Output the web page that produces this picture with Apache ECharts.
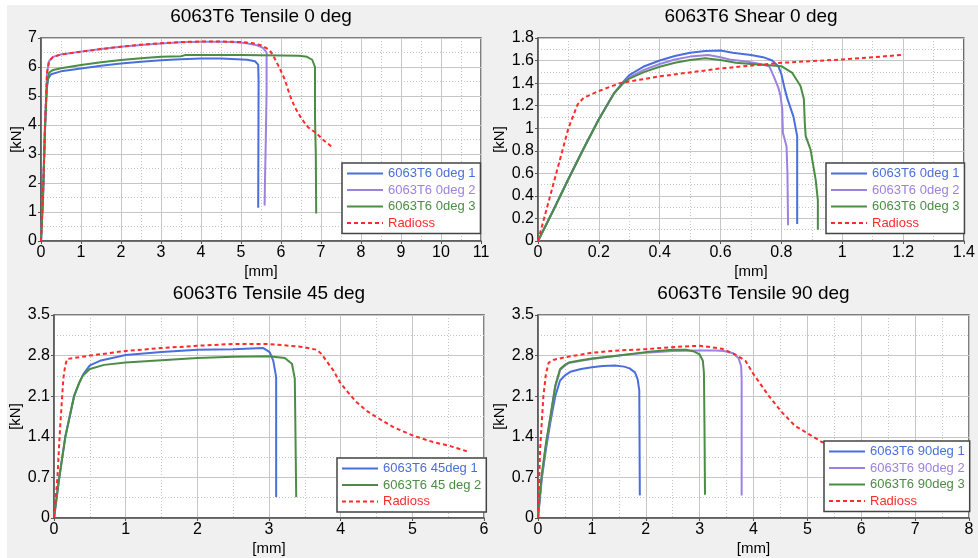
<!DOCTYPE html>
<html>
<head>
<meta charset="utf-8">
<script src="https://cdn.jsdelivr.net/npm/echarts@6/dist/echarts.min.js"></script>
<style>
  html, body { margin: 0; padding: 0; background: #ffffff; }
  #chart { width: 978px; height: 558px; }
</style>
</head>
<body>
<div id="chart"></div>
<script>
// ---- Tensile 0 deg : force [kN] vs displacement [mm] ----
const tensile0Deg1 = [[0,0],[0.05,1.5],[0.1,3.8],[0.14,5.2],[0.18,5.6],[0.25,5.75],[0.5,5.85],[1,5.95],[1.5,6.04],[2,6.12],[2.5,6.18],[3,6.23],[3.5,6.27],[4,6.29],[4.5,6.29],[4.9,6.27],[5.15,6.25],[5.35,6.2],[5.43,6.08],[5.44,5.5],[5.43,1.15]];
const tensile0Deg2 = [[0,0],[0.05,1.6],[0.1,4.0],[0.15,5.8],[0.2,6.2],[0.3,6.35],[0.5,6.43],[1,6.53],[1.5,6.62],[2,6.7],[2.5,6.76],[3,6.81],[3.5,6.85],[4,6.87],[4.5,6.87],[4.8,6.86],[5.1,6.83],[5.4,6.75],[5.55,6.66],[5.64,6.5],[5.64,5.2],[5.62,3.5],[5.6,2.1],[5.59,1.22]];
const tensile0Deg3 = [[0,0],[0.05,1.5],[0.1,3.9],[0.15,5.4],[0.2,5.8],[0.3,5.9],[0.5,5.96],[1,6.07],[1.5,6.16],[2,6.24],[2.5,6.3],[3,6.35],[3.5,6.37],[3.6,6.41],[4,6.41],[5,6.41],[6,6.4],[6.45,6.39],[6.65,6.35],[6.78,6.25],[6.85,6.0],[6.85,4.25],[6.87,3.0],[6.88,0.95]];
const tensile0Radioss = [[0,0],[0.05,1.6],[0.1,4.0],[0.15,5.8],[0.2,6.2],[0.3,6.35],[0.5,6.43],[1,6.53],[1.5,6.62],[2,6.7],[2.5,6.77],[3,6.82],[3.5,6.86],[4,6.88],[4.5,6.88],[5,6.86],[5.3,6.82],[5.47,6.76],[5.6,6.68],[5.72,6.58],[5.84,6.3],[5.97,5.95],[6.1,5.55],[6.22,5.03],[6.34,4.63],[6.52,4.2],[6.68,3.92],[6.89,3.71],[7.06,3.48],[7.27,3.25]];

// ---- Shear 0 deg ----
const shear0Deg1 = [[0,0],[0.05,0.27],[0.1,0.55],[0.15,0.82],[0.2,1.08],[0.25,1.31],[0.28,1.41],[0.3,1.47],[0.35,1.55],[0.4,1.6],[0.45,1.64],[0.5,1.67],[0.55,1.685],[0.6,1.69],[0.64,1.67],[0.7,1.65],[0.74,1.63],[0.77,1.6],[0.79,1.55],[0.8,1.48],[0.81,1.36],[0.82,1.26],[0.84,1.1],[0.852,0.93],[0.852,0.6],[0.852,0.15]];
const shear0Deg2 = [[0,0],[0.05,0.27],[0.1,0.55],[0.15,0.82],[0.2,1.08],[0.25,1.31],[0.28,1.4],[0.3,1.45],[0.35,1.52],[0.4,1.57],[0.45,1.61],[0.5,1.635],[0.56,1.65],[0.6,1.63],[0.63,1.61],[0.69,1.59],[0.73,1.57],[0.76,1.55],[0.775,1.46],[0.79,1.36],[0.797,1.29],[0.803,1.17],[0.805,0.96],[0.817,0.84],[0.82,0.6],[0.822,0.14]];
const shear0Deg3 = [[0,0],[0.05,0.27],[0.1,0.55],[0.15,0.82],[0.2,1.08],[0.25,1.31],[0.28,1.4],[0.3,1.44],[0.35,1.5],[0.4,1.545],[0.45,1.58],[0.5,1.605],[0.55,1.62],[0.6,1.605],[0.65,1.58],[0.7,1.57],[0.75,1.56],[0.8,1.55],[0.836,1.49],[0.863,1.375],[0.874,1.26],[0.877,1.05],[0.88,0.93],[0.896,0.81],[0.913,0.54],[0.92,0.36],[0.92,0.1]];
const shear0Radioss = [[0,0],[0.03,0.3],[0.06,0.6],[0.1,1.0],[0.13,1.21],[0.15,1.27],[0.2,1.33],[0.27,1.4],[0.4,1.46],[0.6,1.53],[0.8,1.58],[1,1.61],[1.2,1.65]];

// ---- Tensile 45 deg ----
const tensile45Deg1 = [[0,0],[0.074,0.7],[0.158,1.4],[0.28,2.1],[0.35,2.33],[0.41,2.48],[0.5,2.63],[0.64,2.71],[1,2.81],[1.5,2.86],[2,2.9],[2.5,2.91],[2.92,2.93],[3.01,2.86],[3.06,2.71],[3.1,2.43],[3.1,0.36]];
const tensile45Deg2 = [[0,0],[0.074,0.7],[0.158,1.4],[0.28,2.1],[0.35,2.32],[0.4,2.45],[0.5,2.57],[0.7,2.64],[1,2.68],[1.5,2.72],[2,2.76],[2.5,2.78],[3,2.79],[3.22,2.76],[3.32,2.66],[3.36,2.4],[3.38,0.36]];
const tensile45Radioss = [[0,0],[0.047,0.68],[0.084,1.54],[0.13,2.4],[0.153,2.6],[0.18,2.74],[0.5,2.8],[1,2.88],[1.5,2.93],[2,2.97],[2.5,3.0],[3,3.0],[3.46,2.95],[3.67,2.9],[3.73,2.83],[3.9,2.54],[3.99,2.34],[4.1,2.17],[4.22,2.0],[4.36,1.85],[4.5,1.74],[4.73,1.57],[5.01,1.42],[5.29,1.31],[5.53,1.24],[5.76,1.15]];

// ---- Tensile 90 deg ----
const tensile90Deg1 = [[0,0],[0.07,0.68],[0.15,1.2],[0.23,1.65],[0.32,2.1],[0.41,2.37],[0.5,2.46],[0.6,2.52],[0.8,2.57],[1,2.6],[1.2,2.62],[1.43,2.63],[1.6,2.61],[1.7,2.58],[1.8,2.51],[1.85,2.39],[1.88,2.2],[1.89,0.39]];
const tensile90Deg2 = [[0,0],[0.07,0.72],[0.15,1.28],[0.23,1.72],[0.32,2.26],[0.41,2.55],[0.5,2.63],[0.57,2.67],[0.8,2.71],[1,2.74],[1.5,2.8],[2,2.85],[2.5,2.88],[3,2.89],[3.3,2.89],[3.45,2.88],[3.62,2.84],[3.72,2.76],[3.77,2.62],[3.78,2.4],[3.78,0.39]];
const tensile90Deg3 = [[0,0],[0.07,0.75],[0.15,1.3],[0.23,1.75],[0.32,2.28],[0.41,2.57],[0.5,2.64],[0.57,2.68],[0.8,2.72],[1,2.75],[1.5,2.8],[2,2.86],[2.5,2.9],[2.75,2.9],[2.9,2.87],[3.0,2.82],[3.06,2.71],[3.08,2.5],[3.09,1.6],[3.1,0.4]];
const tensile90Radioss = [[0,0],[0.04,1.2],[0.1,2.1],[0.15,2.5],[0.2,2.68],[0.3,2.73],[0.5,2.77],[1,2.85],[1.5,2.89],[2,2.91],[2.55,2.95],[3,2.97],[3.41,2.92],[3.66,2.82],[3.85,2.71],[4,2.48],[4.28,2.11],[4.53,1.82],[4.77,1.59],[5.02,1.45],[5.27,1.31],[5.5,1.24],[5.8,1.14]];

// ---- panel titles, legend names, axis ranges ----
const panelTitles = ['6063T6 Tensile 0 deg', '6063T6 Shear 0 deg', '6063T6 Tensile 45 deg', '6063T6 Tensile 90 deg'];
const legendNames0 = ['6063T6 0deg 1', '6063T6 0deg 2', '6063T6 0deg 3', 'Radioss'];
const legendNames45 = ['6063T6 45deg 1', '6063T6 45 deg 2', 'Radioss'];
const legendNames90 = ['6063T6 90deg 1', '6063T6 90deg 2', '6063T6 90deg 3', 'Radioss'];
const xMax = [11, 1.4, 6, 8];
const xStep = [1, 0.2, 1, 1];
const yMax = [7, 1.8, 3.5, 3.5];
const yStep = [1, 0.2, 0.7, 0.7];

const BLUE = '#4a6fdc', PURPLE = '#9b82e2', GREEN = '#4b8d44', RED = '#ff2a2a';
const FONT = '"Liberation Sans", Arial, sans-serif';

const grids = [
  { left: 41, top: 38, width: 440, height: 203 },
  { left: 538, top: 38, width: 426, height: 203 },
  { left: 54, top: 315, width: 430, height: 203 },
  { left: 538, top: 315, width: 431, height: 203 }
].map(g => Object.assign(g, { show: true, backgroundColor: '#ffffff', borderColor: '#555555', borderWidth: 1.5 }));

const yNameGap = [10, 19, 23, 21];

function makeAxis(i, isX) {
  return {
    type: 'value',
    gridIndex: i,
    min: 0,
    max: isX ? xMax[i] : yMax[i],
    interval: isX ? xStep[i] : yStep[i],
    name: isX ? '[mm]' : '[kN]',
    nameLocation: 'middle',
    nameGap: isX ? 23 : yNameGap[i],
    nameTextStyle: { color: '#000', fontSize: 15, fontFamily: FONT },
    axisLine: { show: true, onZero: false, lineStyle: { color: '#555555', width: 1.5 } },
    axisTick: { show: true, length: 3, lineStyle: { color: '#555555', width: 1 } },
    axisLabel: { color: '#000', fontSize: 16, fontFamily: FONT, margin: isX ? 4 : 4, hideOverlap: false },
    splitLine: { show: true, lineStyle: { color: '#c6c6c6', width: 1 } },
    minorTick: { show: false, splitNumber: 2 },
    minorSplitLine: { show: true, lineStyle: { color: '#c6c6c6', width: 1, type: [1, 2] } }
  };
}

function line(name, data, i, color, dashed) {
  return {
    type: 'line', name, data,
    xAxisIndex: i, yAxisIndex: i,
    symbol: 'none', showSymbol: false, smooth: false,
    lineStyle: { color, width: 2, type: dashed ? [4, 3] : 'solid' },
    itemStyle: { color },
    emphasis: { disabled: true },
    animation: false, z: dashed ? 3 : 2
  };
}

const series = [
  line(legendNames0[0], tensile0Deg1, 0, BLUE),
  line(legendNames0[1], tensile0Deg2, 0, PURPLE),
  line(legendNames0[2], tensile0Deg3, 0, GREEN),
  line('Radioss', tensile0Radioss, 0, RED, true),
  line(legendNames0[0], shear0Deg1, 1, BLUE),
  line(legendNames0[1], shear0Deg2, 1, PURPLE),
  line(legendNames0[2], shear0Deg3, 1, GREEN),
  line('Radioss', shear0Radioss, 1, RED, true),
  line(legendNames45[0], tensile45Deg1, 2, BLUE),
  line(legendNames45[1], tensile45Deg2, 2, GREEN),
  line('Radioss', tensile45Radioss, 2, RED, true),
  line(legendNames90[0], tensile90Deg1, 3, BLUE),
  line(legendNames90[1], tensile90Deg2, 3, PURPLE),
  line(legendNames90[2], tensile90Deg3, 3, GREEN),
  line('Radioss', tensile90Radioss, 3, RED, true)
];

function legend(names, colors, left, top) {
  return {
    orient: 'vertical', left, top,
    backgroundColor: '#ffffff', borderColor: '#444444', borderWidth: 1.5, borderRadius: 0,
    padding: [4, 5, 4, 4],
    itemWidth: 36, itemHeight: 14, itemGap: 3.5,
    selectedMode: false,
    itemStyle: { opacity: 0 },
    textStyle: { fontSize: 13, fontFamily: FONT },
    data: names.map((n, k) => ({ name: n, textStyle: { color: colors[k] } }))
  };
}

const titles = panelTitles.map((t, i) => ({
  text: t,
  left: grids[i].left + grids[i].width / 2,
  top: i < 2 ? 7 : 284,
  textAlign: 'center',
  padding: 0,
  textStyle: { color: '#000', fontSize: 19, fontWeight: 'normal', fontFamily: FONT }
}));

const chart = echarts.init(document.getElementById('chart'), null, { renderer: 'canvas' });
chart.setOption({
  backgroundColor: '#ffffff',
  animation: false,
  graphic: [{
    type: 'rect', z: -10, silent: true,
    shape: { x: 7, y: 5, width: 971, height: 553 },
    style: { fill: '#f0f0f0' }
  }],
  title: titles,
  grid: grids,
  xAxis: [0, 1, 2, 3].map(i => makeAxis(i, true)),
  yAxis: [0, 1, 2, 3].map(i => makeAxis(i, false)),
  legend: [
    legend(legendNames0, [BLUE, PURPLE, GREEN, RED], 342, 163),
    legend(legendNames0, [BLUE, PURPLE, GREEN, RED], 826, 163),
    legend(legendNames45, [BLUE, GREEN, RED], 337, 458),
    legend(legendNames90, [BLUE, PURPLE, GREEN, RED], 824, 441)
  ],
  series
});
</script>
</body>
</html>
